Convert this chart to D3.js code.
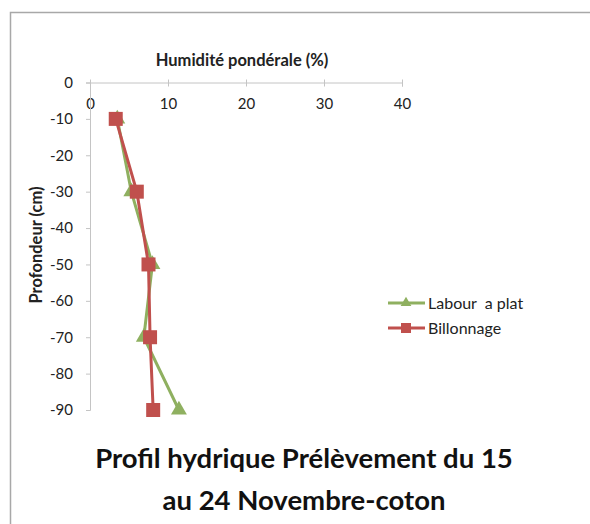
<!DOCTYPE html>
<html>
<head>
<meta charset="utf-8">
<script src="https://cdn.jsdelivr.net/npm/d3@7"></script>
<style>
  body { margin: 0; background: #fff; }
  text { font-family: Lato, "Open Sans", sans-serif; fill: #222; }
</style>
</head>
<body>
<div id="vis"></div>
<script>
'use strict';

// depths (cm) and moisture (%)
var depths = [-10, -30, -50, -70, -90];
var labourValues = [3.5, 5.3, 8.0, 6.9, 11.4];
var billonValues = [3.3, 6.0, 7.5, 7.7, 8.1];
var seriesNames = ['Labour  a plat', 'Billonnage'];
var xTicks = [0, 10, 20, 30, 40];
var yTicks = [0, -10, -20, -30, -40, -50, -60, -70, -80, -90];

var width = 590, height = 524;
var svg = d3.select('#vis').append('svg')
    .attr('width', width)
    .attr('height', height);

// chart frame
svg.append('rect')
    .attr('x', 10.5).attr('y', 12.5)
    .attr('width', 590).attr('height', 520)
    .attr('fill', 'none')
    .attr('stroke', '#a8a8a8')
    .attr('stroke-width', 1.5);

var x = d3.scaleLinear().domain([0, 40]).range([90, 402]);
var y = d3.scaleLinear().domain([0, -90]).range([82.5, 410]);

// x axis (on top, labels below the line)
var xAxis = svg.append('g').attr('transform', 'translate(0,' + y(0) + ')')
    .call(d3.axisBottom(x).tickValues(xTicks).tickSize(4).tickPadding(12));
xAxis.select('.domain').attr('stroke', '#c4c4c4');
xAxis.selectAll('.tick line').attr('stroke', '#c4c4c4').attr('y1', -3);
xAxis.selectAll('.tick text').style('font-size', '15px').attr('fill', '#222');

var yAxis = svg.append('g').attr('transform', 'translate(' + x(0) + ',0)')
    .call(d3.axisLeft(y).tickValues(yTicks).tickSize(4).tickPadding(13));
yAxis.select('.domain').attr('stroke', '#c4c4c4');
yAxis.selectAll('.tick line').attr('stroke', '#c4c4c4');
yAxis.selectAll('.tick text').style('font-size', '15px').attr('fill', '#222')
    .text(function (d) { return d; });

// axis titles
svg.append('text')
    .attr('x', 242).attr('y', 66)
    .attr('text-anchor', 'middle')
    .style('font-size', '16.5px').style('font-weight', 'bold')
    .text('Humidité pondérale (%)');

svg.append('text')
    .attr('transform', 'translate(42,245) rotate(-90)')
    .attr('text-anchor', 'middle')
    .style('font-size', '16.5px').style('font-weight', 'bold')
    .text('Profondeur (cm)');

var line = d3.line()
    .x(function (d) { return x(d.v); })
    .y(function (d) { return y(d.depth); });

function toPoints(values) {
    return values.map(function (v, i) { return { v: v, depth: depths[i] }; });
}

var green = '#8fb060', red = '#c0504d';
var labourPts = toPoints(labourValues);
var billonPts = toPoints(billonValues);

svg.append('path').datum(labourPts)
    .attr('d', line).attr('fill', 'none')
    .attr('stroke', green).attr('stroke-width', 3);
svg.selectAll('.tri').data(labourPts).enter().append('path')
    .attr('class', 'tri')
    .attr('d', d3.symbol().type(d3.symbolTriangle).size(110))
    .attr('transform', function (d) { return 'translate(' + x(d.v) + ',' + y(d.depth) + ')'; })
    .attr('fill', green);

svg.append('path').datum(billonPts)
    .attr('d', line).attr('fill', 'none')
    .attr('stroke', red).attr('stroke-width', 3);
svg.selectAll('.sq').data(billonPts).enter().append('rect')
    .attr('class', 'sq')
    .attr('x', function (d) { return x(d.v) - 7; })
    .attr('y', function (d) { return y(d.depth) - 7; })
    .attr('width', 14).attr('height', 14)
    .attr('fill', red);

// legend
var legend = svg.append('g');
var legendColors = [green, red];
seriesNames.forEach(function (name, i) {
    var ly = 303 + i * 25;
    legend.append('line')
        .attr('x1', 388).attr('x2', 425).attr('y1', ly).attr('y2', ly)
        .attr('stroke', legendColors[i]).attr('stroke-width', 3);
    if (i === 0) {
        legend.append('path')
            .attr('d', d3.symbol().type(d3.symbolTriangle).size(50))
            .attr('transform', 'translate(406,' + ly + ')')
            .attr('fill', green);
    } else {
        legend.append('rect')
            .attr('x', 401).attr('y', ly - 5).attr('width', 10).attr('height', 10)
            .attr('fill', red);
    }
    legend.append('text')
        .attr('x', 428).attr('y', ly + 5.5)
        .attr('xml:space', 'preserve')
        .style('font-size', '16px')
        .text(name);
});

// chart title
var titleLines = ['Profil hydrique Prélèvement du 15', 'au 24 Novembre-coton'];
svg.selectAll('.title').data(titleLines).enter().append('text')
    .attr('class', 'title')
    .attr('x', 304)
    .attr('y', function (d, i) { return 468 + i * 42; })
    .attr('text-anchor', 'middle')
    .style('font-size', '27.5px').style('font-weight', 'bold')
    .style('fill', '#111')
    .text(function (d) { return d; });
</script>
</body>
</html>
